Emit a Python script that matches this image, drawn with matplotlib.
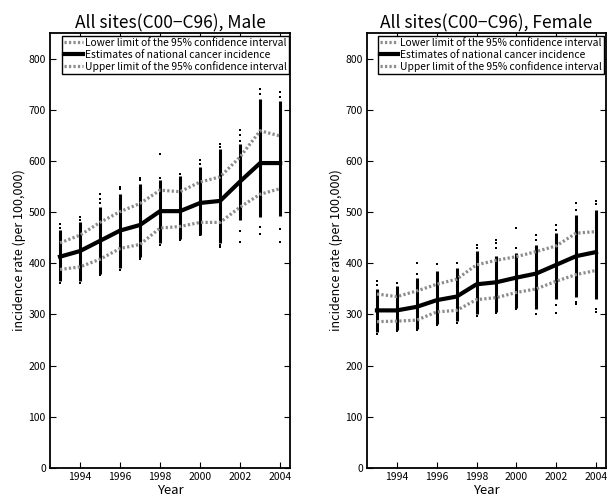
import matplotlib
matplotlib.use("Agg")
import matplotlib.pyplot as plt

plt.rcParams['font.family'] = ['Noto Sans CJK JP', 'DejaVu Sans']

years = [1993, 1994, 1995, 1996, 1997, 1998, 1999, 2000, 2001, 2002, 2003, 2004]

male_est = [413, 424, 444, 464, 475, 502, 502, 518, 522, 560, 596, 596]
male_upper = [440, 455, 480, 501, 517, 543, 540, 559, 569, 608, 659, 649]
male_lower = [388, 393, 408, 429, 437, 469, 472, 480, 480, 510, 535, 546]
male_dense_lo = [365, 365, 380, 390, 412, 440, 448, 456, 440, 484, 490, 493]
male_dense_hi = [465, 480, 510, 536, 555, 562, 570, 588, 624, 634, 721, 718]
male_outliers = [
    [362, 470, 477],
    [362, 484, 490],
    [377, 518, 525, 535],
    [387, 545, 550],
    [408, 410, 562, 567],
    [435, 566, 614],
    [445, 575],
    [455, 595, 602],
    [432, 436, 628, 634],
    [441, 464, 640, 650, 660],
    [458, 471, 730, 741],
    [441, 468, 725, 734],
]

female_est = [308, 308, 315, 328, 335, 359, 363, 372, 380, 397, 414, 422]
female_upper = [340, 335, 346, 359, 369, 397, 406, 413, 423, 434, 459, 462]
female_lower = [286, 287, 289, 305, 308, 329, 333, 343, 350, 365, 378, 386]
female_dense_lo = [265, 270, 272, 282, 288, 300, 305, 312, 310, 330, 335, 330]
female_dense_hi = [350, 355, 372, 385, 390, 425, 415, 420, 435, 460, 495, 505]
female_outliers = [
    [262, 358, 366],
    [268, 362],
    [270, 380, 400],
    [280, 398],
    [284, 400],
    [297, 430, 436],
    [302, 430, 440, 445],
    [310, 430, 470],
    [300, 445, 455],
    [302, 318, 465, 475],
    [320, 325, 505, 518],
    [305, 310, 515, 522],
]

panels = [
    ("All sites(C00\u2212C96), Male", male_est, male_upper, male_lower,
     male_dense_lo, male_dense_hi, male_outliers),
    ("All sites(C00\u2212C96), Female", female_est, female_upper, female_lower,
     female_dense_lo, female_dense_hi, female_outliers),
]

fig = plt.figure(figsize=(6.08, 4.97), dpi=100)
positions = [[0.0822, 0.0584, 0.395, 0.875], [0.6036, 0.0584, 0.393, 0.875]]

ci_style = dict(color='0.55', linestyle=(0, (0.7, 0.7)), linewidth=2.3)

for pos, (title, est, up, lo, dlo, dhi, outl) in zip(positions, panels):
    ax = fig.add_axes(pos)
    ax.vlines(years, dlo, dhi, colors='black', linewidth=2.2, zorder=2)
    for y, vals in zip(years, outl):
        ax.scatter([y] * len(vals), vals, s=2.5, color='black', marker='s',
                   linewidths=0, zorder=2)
    l1, = ax.plot(years, lo, zorder=3, **ci_style)
    l2, = ax.plot(years, est, color='black', linewidth=3.0, zorder=4)
    l3, = ax.plot(years, up, zorder=3, **ci_style)
    ax.set_xlim(1992.5, 2004.5)
    ax.set_ylim(0, 850)
    ax.set_xticks([1994, 1996, 1998, 2000, 2002, 2004])
    ax.set_yticks([0, 100, 200, 300, 400, 500, 600, 700, 800])
    ax.tick_params(direction='in', top=True, right=True, labelsize=7.5,
                   length=4, width=0.8, pad=3)
    for sp in ax.spines.values():
        sp.set_linewidth(1.3)
    ax.set_title(title, fontsize=12.5, pad=3)
    ax.set_xlabel("Year", fontsize=9.5, labelpad=1)
    ax.set_ylabel("incidence rate (per 100,000)", fontsize=9, labelpad=2)
    leg = ax.legend([l1, l2, l3],
                    ["Lower limit of the 95% confidence interval",
                     "Estimates of national cancer incidence",
                     "Upper limit of the 95% confidence interval"],
                    loc='upper right', bbox_to_anchor=(1.0, 0.997),
                    fontsize=7.4, fancybox=False,
                    framealpha=1, edgecolor='black', handlelength=1.8,
                    handletextpad=0.2, borderpad=0.2, labelspacing=0.15,
                    borderaxespad=0.15)
    leg.get_frame().set_linewidth(1.0)

fig.savefig("out.png", dpi=100)
